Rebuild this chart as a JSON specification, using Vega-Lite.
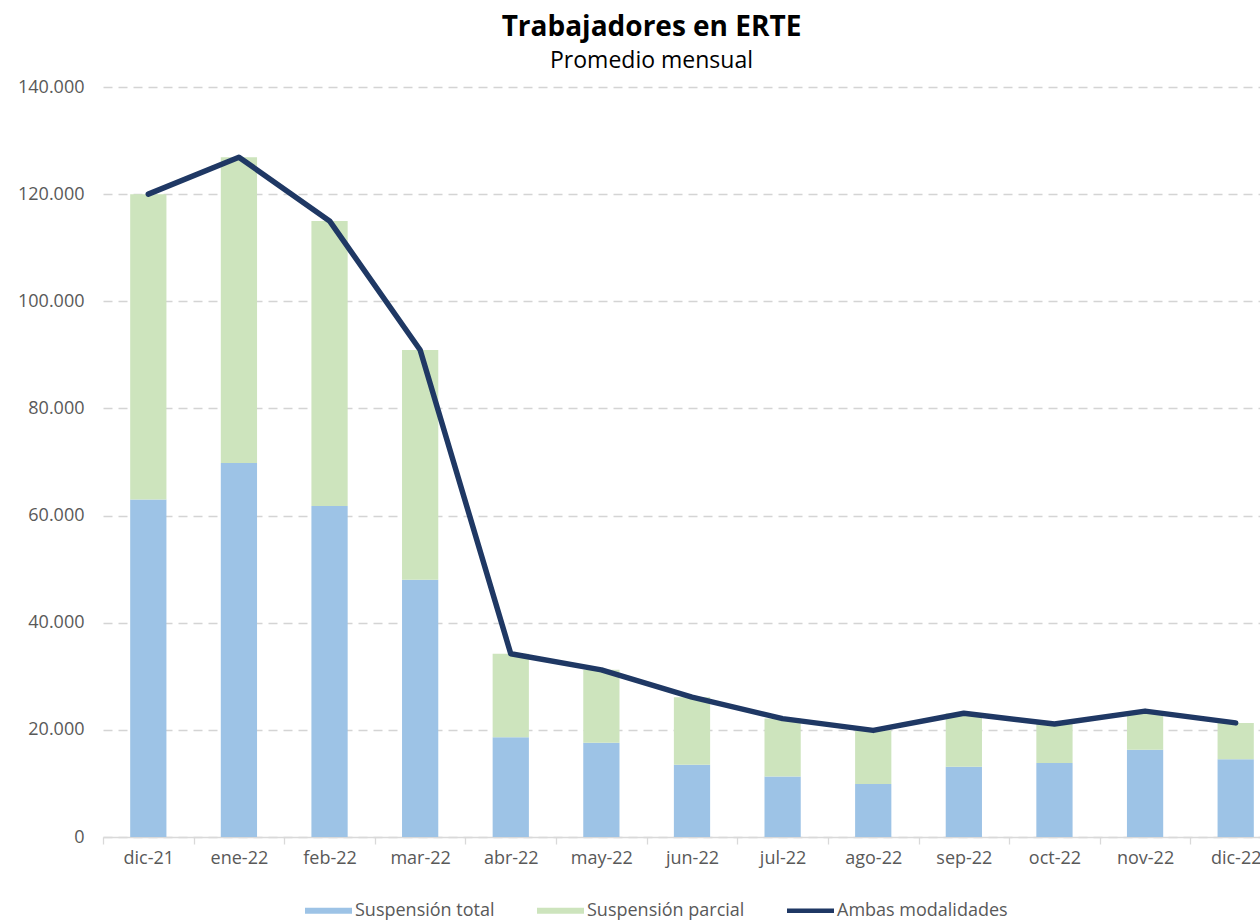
{
  "$schema": "https://vega.github.io/schema/vega-lite/v6.json",
  "autosize": {"type": "none"},
  "width": 1157,
  "height": 750,
  "padding": {"left": 103, "top": 87, "right": 0, "bottom": 84},
  "background": "white",
  "config": {
    "view": {"stroke": null},
    "axisY": {"domain": false, "ticks": false}
  },
  "title": {
    "text": "Trabajadores en ERTE",
    "subtitle": "Promedio mensual",
    "font": "Open Sans",
    "fontSize": 28,
    "fontWeight": "bold",
    "color": "#000000",
    "subtitleFont": "Open Sans",
    "subtitleFontSize": 23,
    "subtitleColor": "#000000",
    "anchor": "middle",
    "dx": -30,
    "offset": 5,
    "subtitlePadding": 8
  },
  "datasets": {
    "barras": [
      {"mes": "dic-21", "tipo": "Suspensión total", "valor": 63000},
      {"mes": "dic-21", "tipo": "Suspensión parcial", "valor": 57000},
      {"mes": "ene-22", "tipo": "Suspensión total", "valor": 69800},
      {"mes": "ene-22", "tipo": "Suspensión parcial", "valor": 57100},
      {"mes": "feb-22", "tipo": "Suspensión total", "valor": 61800},
      {"mes": "feb-22", "tipo": "Suspensión parcial", "valor": 53200},
      {"mes": "mar-22", "tipo": "Suspensión total", "valor": 48000},
      {"mes": "mar-22", "tipo": "Suspensión parcial", "valor": 42900},
      {"mes": "abr-22", "tipo": "Suspensión total", "valor": 18600},
      {"mes": "abr-22", "tipo": "Suspensión parcial", "valor": 15600},
      {"mes": "may-22", "tipo": "Suspensión total", "valor": 17600},
      {"mes": "may-22", "tipo": "Suspensión parcial", "valor": 13600},
      {"mes": "jun-22", "tipo": "Suspensión total", "valor": 13500},
      {"mes": "jun-22", "tipo": "Suspensión parcial", "valor": 12600},
      {"mes": "jul-22", "tipo": "Suspensión total", "valor": 11300},
      {"mes": "jul-22", "tipo": "Suspensión parcial", "valor": 10800},
      {"mes": "ago-22", "tipo": "Suspensión total", "valor": 9900},
      {"mes": "ago-22", "tipo": "Suspensión parcial", "valor": 10000},
      {"mes": "sep-22", "tipo": "Suspensión total", "valor": 13100},
      {"mes": "sep-22", "tipo": "Suspensión parcial", "valor": 10000},
      {"mes": "oct-22", "tipo": "Suspensión total", "valor": 13800},
      {"mes": "oct-22", "tipo": "Suspensión parcial", "valor": 7300},
      {"mes": "nov-22", "tipo": "Suspensión total", "valor": 16300},
      {"mes": "nov-22", "tipo": "Suspensión parcial", "valor": 7200},
      {"mes": "dic-22", "tipo": "Suspensión total", "valor": 14500},
      {"mes": "dic-22", "tipo": "Suspensión parcial", "valor": 6800}
    ],
    "linea": [
      {"mes": "dic-21", "total": 120000},
      {"mes": "ene-22", "total": 126900},
      {"mes": "feb-22", "total": 115000},
      {"mes": "mar-22", "total": 90900},
      {"mes": "abr-22", "total": 34200},
      {"mes": "may-22", "total": 31200},
      {"mes": "jun-22", "total": 26100},
      {"mes": "jul-22", "total": 22100},
      {"mes": "ago-22", "total": 19900},
      {"mes": "sep-22", "total": 23100},
      {"mes": "oct-22", "total": 21100},
      {"mes": "nov-22", "total": 23500},
      {"mes": "dic-22", "total": 21300}
    ]
  },
  "layer": [
    {
      "data": {"name": "barras"},
      "mark": {"type": "bar"},
      "encoding": {
        "x": {
          "field": "mes",
          "type": "nominal",
          "sort": ["dic-21","ene-22","feb-22","mar-22","abr-22","may-22","jun-22","jul-22","ago-22","sep-22","oct-22","nov-22","dic-22"],
          "scale": {"range": [0, 1178], "paddingInner": 0.6, "paddingOuter": 0.3},
          "axis": {
            "title": null,
            "labelAngle": 0,
            "domainColor": "#D9D9D9",
            "domainWidth": 1.3,
            "tickColor": "#D9D9D9",
            "tickWidth": 1.3,
            "tickSize": 7,
            "tickOffset": -45.3,
            "labelOffset": 45.3,
            "labelFont": "Open Sans",
            "labelFontSize": 18,
            "labelColor": "#595959",
            "labelPadding": 5,
            "grid": false
          }
        },
        "y": {
          "field": "valor",
          "type": "quantitative",
          "stack": "zero",
          "scale": {"domain": [0, 140000], "nice": false},
          "axis": {
            "title": null,
            "domain": false,
            "ticks": false,
            "grid": true,
            "gridColor": "#D4D4D4",
            "gridDash": [9, 6],
            "gridWidth": 1.5,
            "values": [0, 20000, 40000, 60000, 80000, 100000, 120000, 140000],
            "labelExpr": "replace(format(datum.value, ','), ',', '.')",
            "labelFont": "Open Sans",
            "labelFontSize": 18,
            "labelColor": "#595959",
            "labelPadding": 19
          }
        },
        "fill": {
          "field": "tipo",
          "type": "nominal",
          "scale": {
            "domain": ["Suspensión total", "Suspensión parcial", "Ambas modalidades"],
            "range": ["#9DC3E6", "#CDE4BD", "#1F3864"]
          },
          "legend": {
            "title": null,
            "orient": "none",
            "direction": "horizontal",
            "legendX": 202,
            "legendY": 800,
            "symbolType": "M-1,-0.13H1V0.13H-1Z",
            "symbolSize": 2209,
            "symbolStrokeWidth": 0,
            "labelFont": "Open Sans",
            "labelFontSize": 18,
            "labelColor": "#595959",
            "labelOffset": 3,
            "columnPadding": 42,
            "labelLimit": 300,
            "encode": {
              "symbols": {
                "update": {
                  "shape": {"signal": "datum.value === 'Ambas modalidades' ? 'M-1,-0.1H1V0.1H-1Z' : 'M-1,-0.13H1V0.13H-1Z'"}
                }
              }
            }
          }
        },
        "order": {"field": "tipo", "sort": "descending"}
      }
    },
    {
      "data": {"name": "linea"},
      "mark": {"type": "line", "color": "#1F3864", "strokeWidth": 5.5, "strokeCap": "round", "strokeJoin": "round"},
      "encoding": {
        "x": {
          "field": "mes",
          "type": "nominal",
          "sort": ["dic-21","ene-22","feb-22","mar-22","abr-22","may-22","jun-22","jul-22","ago-22","sep-22","oct-22","nov-22","dic-22"]
        },
        "y": {"field": "total", "type": "quantitative"}
      }
    }
  ]
}
